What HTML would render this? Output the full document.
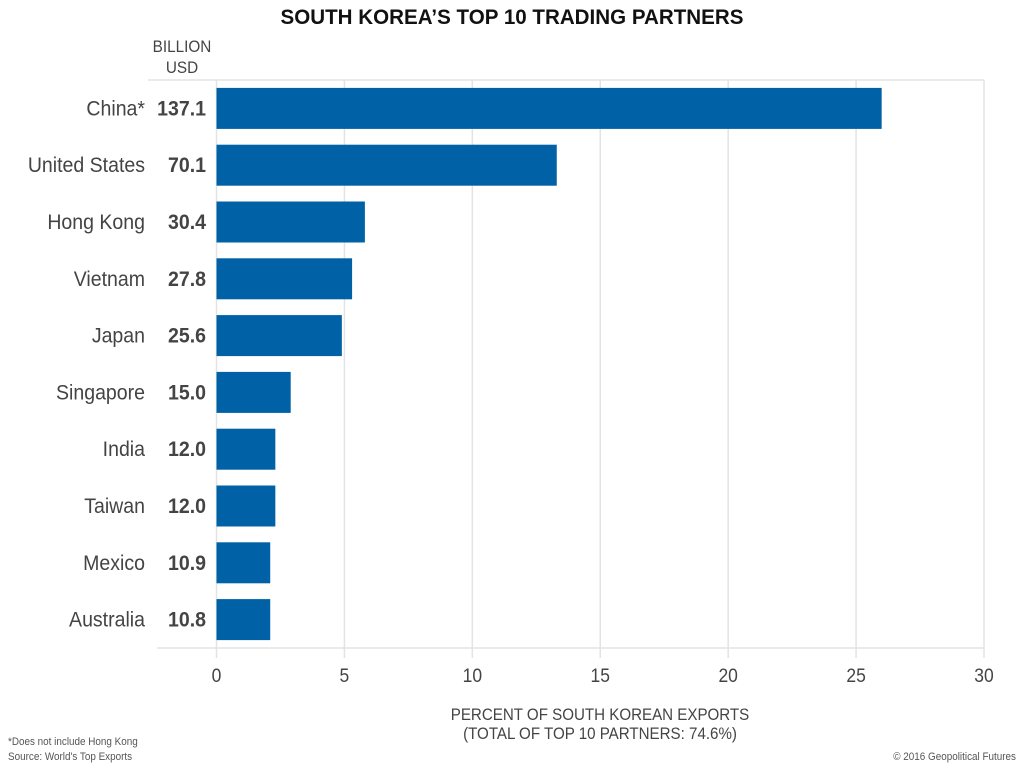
<!DOCTYPE html>
<html><head><meta charset="utf-8"><style>
body{margin:0;background:#fff;}
svg text{font-family:"Liberation Sans Narrow","Liberation Sans",sans-serif;}
</style></head><body>
<svg id="chart" width="1024" height="768" viewBox="0 0 1024 768" xmlns="http://www.w3.org/2000/svg">
<text transform="translate(512,24) scale(0.98,1)" text-anchor="middle" font-size="21" font-weight="bold" fill="#111">SOUTH KOREA’S TOP 10 TRADING PARTNERS</text>
<text transform="translate(182,52) scale(0.9,1)" text-anchor="middle" font-size="17" fill="#444">BILLION</text>
<text transform="translate(182,73) scale(0.9,1)" text-anchor="middle" font-size="17" fill="#444">USD</text>
<g id="grid"></g>
<g id="bars"></g>
<text transform="translate(600,720) scale(0.89,1)" text-anchor="middle" font-size="17" fill="#444">PERCENT OF SOUTH KOREAN EXPORTS</text>
<text transform="translate(600,739) scale(0.89,1)" text-anchor="middle" font-size="17" fill="#444">(TOTAL OF TOP 10 PARTNERS: 74.6%)</text>
<text transform="translate(8,745) scale(0.9,1)" font-size="11" fill="#555">*Does not include Hong Kong</text>
<text transform="translate(8,760) scale(0.9,1)" font-size="11" fill="#555">Source: World's Top Exports</text>
<text transform="translate(1016,760) scale(0.9,1)" text-anchor="end" font-size="11" fill="#555">© 2016 Geopolitical Futures</text>
</svg>
<script>
const categories=["China*","United States","Hong Kong","Vietnam","Japan","Singapore","India","Taiwan","Mexico","Australia"];
const percentValues=[26.0,13.3,5.8,5.3,4.9,2.9,2.3,2.3,2.1,2.1];
const billionLabels=["137.1","70.1","30.4","27.8","25.6","15.0","12.0","12.0","10.9","10.8"];
const xTicks=[0,5,10,15,20,25,30];
const NS="http://www.w3.org/2000/svg";
const x0=216.5,x1=984,xMax=30,yTop=80,yBot=648;
const xs=v=>x0+(x1-x0)*v/xMax;
const step=(yBot-yTop)/categories.length;
const yc=i=>yTop+step*(i+0.5);
function mk(tag,attrs,parent){const e=document.createElementNS(NS,tag);for(const k in attrs)e.setAttribute(k,attrs[k]);parent.appendChild(e);return e;}
const grid=document.getElementById('grid'),bars=document.getElementById('bars');
let l=mk('line',{x1:148,x2:984,y1:yTop,y2:yTop,stroke:'#e3e3e3','stroke-width':1.5},grid);


xTicks.forEach(t=>{
 const g=mk('line',{x1:xs(t),x2:xs(t),y1:yTop,y2:658,stroke:'#e3e3e3','stroke-width':1.5},grid);
 
 
 const tx=mk('text',{transform:`translate(${xs(t)},682) scale(0.92,1)`,'text-anchor':'middle','font-size':19,fill:'#444'},grid);
 tx.textContent=t;
 
 
});
l=mk('line',{x1:157,x2:984,y1:yBot,y2:yBot,stroke:'#e3e3e3','stroke-width':1.5},grid);


categories.forEach((c,i)=>{
 const y=yc(i);
 const r=mk('rect',{x:x0,y:y-20.5,width:xs(percentValues[i])-x0,height:41,fill:'#0061a6'},bars);
 
 
 const lb=mk('text',{transform:`translate(145,${y+7}) scale(0.93,1)`,'text-anchor':'end','font-size':21,fill:'#444'},bars);
 lb.textContent=c;
 
 
 const v=mk('text',{transform:`translate(206,${y+7}) scale(0.93,1)`,'text-anchor':'end','font-size':21,'font-weight':'bold',fill:'#444'},bars);
 v.textContent=billionLabels[i];
 
 
});
</script>
</body></html>
